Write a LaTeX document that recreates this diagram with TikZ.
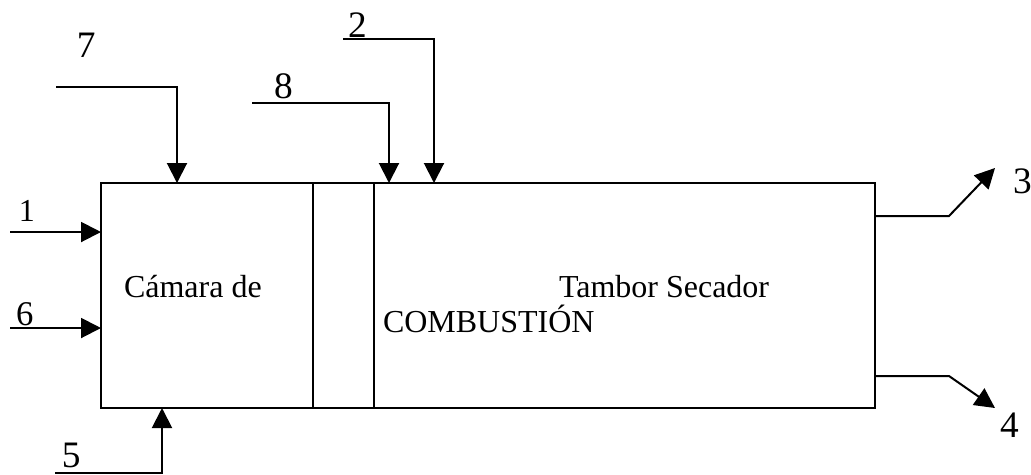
\documentclass[tikz,border=0pt]{standalone}
\usepackage{fontspec}
\setmainfont{Liberation Serif}
\usetikzlibrary{arrows.meta}
\tikzset{
  flow/.style={-{Triangle[width=7.5pt,length=7.5pt]}},
  part/.style={draw, inner sep=0pt, outer sep=0pt, minimum height=84.375pt},
  txt/.style={inner sep=0pt, anchor=base west},
  num/.style={txt, font=\fontsize{14pt}{16pt}\selectfont},
}
\begin{document}
\begin{tikzpicture}[x=0.375pt,y=-0.375pt,line width=0.75pt,font=\fontsize{12pt}{14pt}\selectfont]
\useasboundingbox (0,0) rectangle (1031,474);
% the unit
\node[part, minimum width=79.5pt] (camara) at (207,295.5) {};
\node[part, minimum width=22.875pt] (junta) at (343.5,295.5) {};
\node[part, minimum width=187.875pt] (tambor) at (624.5,295.5) {};
\node[txt] (tcam) at (123,297) {Cámara de};
\node[txt] (ttam) at (558,297) {Tambor Secador};
\node[txt] (tcomb) at (382,332) {COMBUSTIÓN};
% inlets
\coordinate (s1) at (10,232);
\draw[flow] (s1) -- (s1 -| camara.west);
\node[txt] (l1) at (18,221) {1};
\coordinate (s6) at (10,328);
\draw[flow] (s6) -- (s6 -| camara.west);
\node[num, font=\fontsize{13pt}{15pt}\selectfont] (l6) at (15,325) {6};
\coordinate (s5) at (55,473);
\coordinate (c5) at (162,473);
\draw[flow] (s5) -- (c5) -- (c5 |- camara.south);
\node[num] (l5) at (61,467) {5};
\coordinate (s7) at (56,87);
\coordinate (c7) at (177,87);
\draw[flow] (s7) -- (c7) -- (c7 |- camara.north);
\node[num] (l7) at (76,57) {7};
\coordinate (s8) at (252,103);
\coordinate (c8) at (389,103);
\draw[flow] (s8) -- (c8) -- (c8 |- tambor.north);
\node[num] (l8) at (273,98) {8};
\coordinate (s2) at (343,39);
\coordinate (c2) at (434,39);
\draw[flow] (s2) -- (c2) -- (c2 |- tambor.north);
\node[num] (l2) at (347,37) {2};
% outlets
\coordinate (c3) at (949,216);
\coordinate (e3) at (995,168);
\draw[flow] (c3 -| tambor.east) -- (c3) -- (e3);
\node[num] (l3) at (1012,193) {3};
\coordinate (c4) at (949,376);
\coordinate (e4) at (995,408);
\draw[flow] (c4 -| tambor.east) -- (c4) -- (e4);
\node[num] (l4) at (999,437) {4};
\end{tikzpicture}
\end{document}
